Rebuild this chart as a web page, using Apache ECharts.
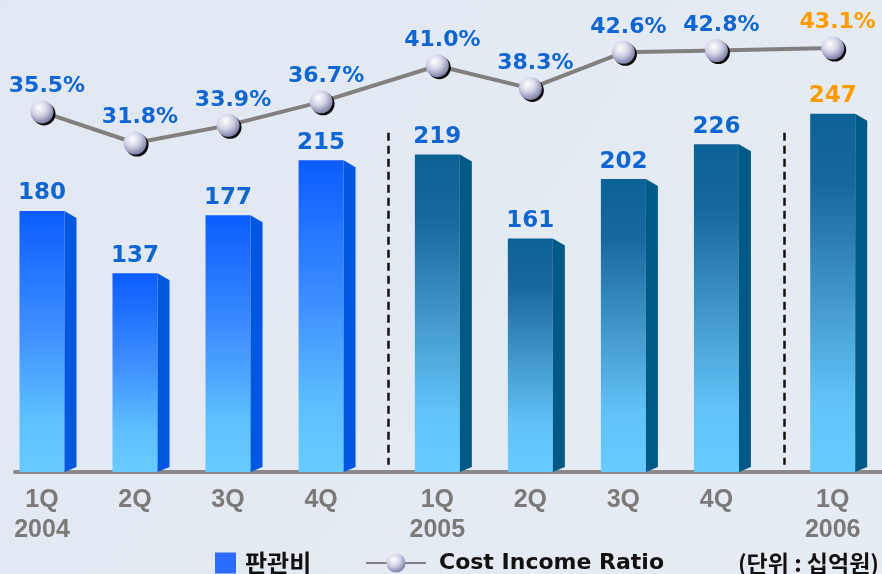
<!DOCTYPE html>
<html>
<head>
<meta charset="utf-8">
<script src="https://cdn.jsdelivr.net/npm/echarts@6/dist/echarts.min.js"></script>
<style>
html,body{margin:0;padding:0;background:#e4eaf3;}
#c{width:882px;height:574px;}
</style>
</head>
<body>
<div id="c"></div>
<script>
// ---- data ----
var quarters = ['1Q','2Q','3Q','4Q','1Q','2Q','3Q','4Q','1Q'];
var years    = ['2004','','','','2005','','','','2006'];
var sgaValues = [180,137,177,215,219,161,202,226,247];        // 판관비 (십억원)
var cirValues = [35.5,31.8,33.9,36.7,41.0,38.3,42.6,42.8,43.1]; // Cost Income Ratio (%)
var barName = '판관비';
var lineName = 'Cost Income Ratio';
var unitText = '(단위 : 십억원)';

// ---- layout derived from data: quarter index plus a gap between years ----
var YEAR_GAP = 0.25;
var xPos = [], groupOf = [];
(function(){
  var g = 0;
  for (var i = 0; i < quarters.length; i++) {
    if (i > 0 && quarters[i] === '1Q') g++;
    groupOf.push(g);
    xPos.push(i + YEAR_GAP * g);
  }
})();
var lastIdx = quarters.length - 1;

var BLUE = '#0f66d2', ORANGE = '#ff9a00';
var FRONT_W = 45, SIDE_W = 12, SIDE_DROP = 7, SIDE_RISE = 5;
var SEP_TOP = 234, SEP_BOTTOM = 5;

function frontGrad(g) {
  if (g === 0) {
    return new echarts.graphic.LinearGradient(0,0,0,1,[
      {offset:0,color:'#0c5cff'},{offset:0.45,color:'#3d8eff'},{offset:0.8,color:'#5fc0ff'},{offset:1,color:'#66ccff'}]);
  }
  return new echarts.graphic.LinearGradient(0,0,0,1,[
    {offset:0,color:'#0c6296'},{offset:0.2,color:'#17689e'},{offset:0.5,color:'#3f95c8'},{offset:0.8,color:'#62c2f6'},{offset:1,color:'#66ccff'}]);
}
function sideColor(g) { return g === 0 ? '#0058e0' : '#005a88'; }

var barData = sgaValues.map(function(v,i){ return [xPos[i], v, i]; });
var lineData = cirValues.map(function(v,i){ return [xPos[i], v]; });

function renderBar(params, api) {
  var i = api.value(2);
  var top = api.coord([api.value(0), api.value(1)]);
  var base = api.coord([api.value(0), 0]);
  var cx = top[0];
  var l = cx - FRONT_W/2, r = cx + FRONT_W/2;
  var g = groupOf[i];
  var children = [
    {type:'rect', shape:{x:l, y:top[1], width:FRONT_W, height:base[1]-top[1]}, style:{fill:frontGrad(g)}},
    {type:'polygon', shape:{points:[[r,top[1]],[r+SIDE_W,top[1]+SIDE_DROP],[r+SIDE_W,base[1]-SIDE_RISE],[r,base[1]]]}, style:{fill:sideColor(g)}},
    {type:'text', x:cx, y:top[1]-6, style:{text:String(sgaValues[i]), fill:(i===lastIdx?ORANGE:BLUE),
      font:'bold 23px "DejaVu Sans"', align:'center', verticalAlign:'bottom'}}
  ];
  if (i < lastIdx && quarters[i+1] === '1Q') {
    var nx = api.coord([xPos[i+1], 0])[0] - FRONT_W/2;
    var sx = Math.round(((r + SIDE_W) + nx) / 2) + 3.5;
    var y1 = api.coord([xPos[i], SEP_TOP])[1];
    var y2 = api.coord([xPos[i], SEP_BOTTOM])[1];
    children.push({type:'line', shape:{x1:sx, y1:y1, x2:sx, y2:y2},
      style:{stroke:'#111', lineWidth:2.5, lineDash:[8,5]}});
  }
  return {type:'group', children:children};
}

var ballColor = new echarts.graphic.RadialGradient(0.38,0.32,0.75,[
  {offset:0,color:'#ffffff'},{offset:0.45,color:'#d2d4e6'},{offset:1,color:'#6d7299'}]);

var chart = echarts.init(document.getElementById('c'), null, {renderer:'canvas'});
chart.setOption({
  backgroundColor: new echarts.graphic.LinearGradient(0,0,1,1,[{offset:0,color:'#e2e8f1'},{offset:1,color:'#e6ecf4'}]),
  animation:false,
  grid:{left:15, right:0, top:37, bottom:102},
  xAxis:{
    type:'value', min:-0.29, max:9.03,
    splitLine:{show:false},
    axisTick:{show:false},
    axisLine:{show:true, onZero:false, lineStyle:{color:'#8a8a8a', width:4}},
    axisLabel:{
      customValues: xPos,
      margin:13,
      color:'#7a7a7a',
      fontFamily:'"Liberation Sans"', fontWeight:'bold',
      fontSize:25, lineHeight:30,
      formatter:function(v){
        for (var i=0;i<xPos.length;i++){
          if (Math.abs(xPos[i]-v)<1e-6) return quarters[i] + (years[i] ? '\n' + years[i] : '');
        }
        return '';
      }
    }
  },
  yAxis:[
    {type:'value', min:0, max:300, show:false},
    {type:'value', min:-7.37, max:44.42, show:false}
  ],
  legend:[
    {data:[{name:barName, icon:'rect', itemStyle:{color:'#2b6bff'}}], left:215, top:551, padding:0,
     itemWidth:21, itemHeight:21,
     textStyle:{fontFamily:'"Noto Sans CJK KR"', fontWeight:'bold', fontSize:24, color:'#111', padding:[0,0,0,4]}},
    {data:[lineName], left:365, top:552, padding:0, itemWidth:60, itemHeight:24,
     textStyle:{fontFamily:'"DejaVu Sans"', fontWeight:'bold', fontSize:22, color:'#111', padding:[0,0,0,8]}}
  ],
  graphic:[
    {type:'text', right:3, top:552, style:{text:unitText, font:'bold 23px "Noto Sans CJK KR"', fill:'#111'}}
  ],
  series:[
    {name:barName, type:'custom', renderItem:renderBar, data:barData, encode:{x:0,y:1},
     itemStyle:{color:'#2b6bff'}, clip:false, z:2},
    {name:lineName, type:'line', yAxisIndex:1, z:3,
     data:lineData.map(function(d,i){ return i===lastIdx ? {value:d, label:{color:ORANGE}} : d; }),
     lineStyle:{color:'#808080', width:4},
     symbol:'circle', symbolSize:23,
     itemStyle:{color:ballColor, borderWidth:0, shadowColor:'rgba(0,0,0,0.95)', shadowBlur:0, shadowOffsetX:2, shadowOffsetY:2},
     label:{show:true, position:'top', distance:3, offset:[5,0],
       fontFamily:'"DejaVu Sans"', fontWeight:'bold', fontSize:22,
       formatter:function(p){ return cirValues[p.dataIndex].toFixed(1) + '%'; },
       color:BLUE},
     emphasis:{disabled:true}
    }
  ]
});
</script>
</body>
</html>
